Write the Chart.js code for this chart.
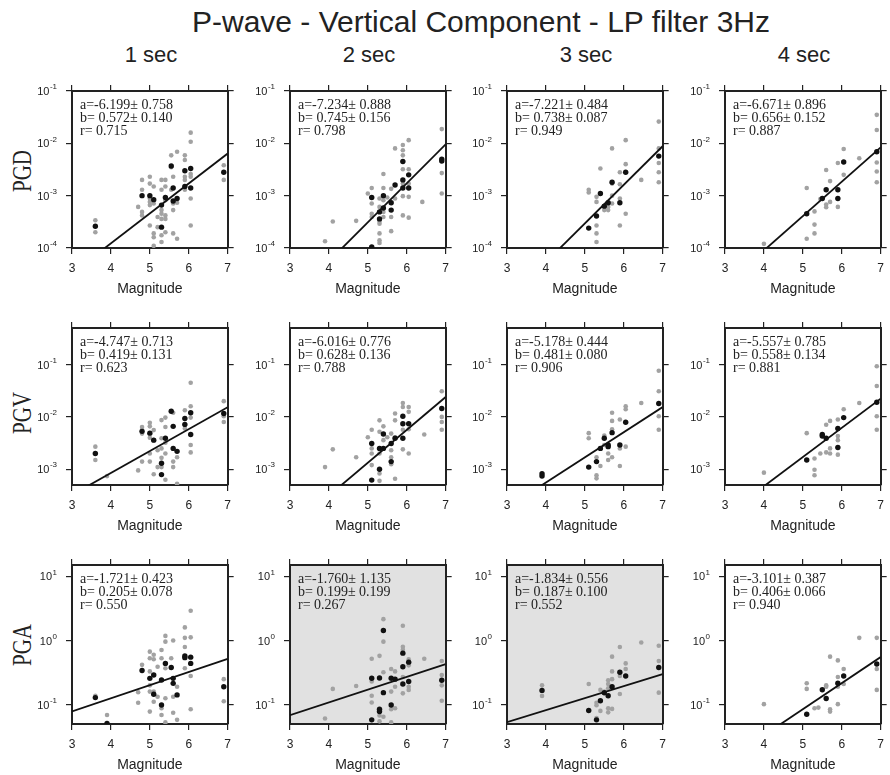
<!DOCTYPE html>
<html>
<head>
<meta charset="utf-8">
<script src="https://cdn.jsdelivr.net/npm/chart.js@4.4.1/dist/chart.umd.min.js"></script>
<style>
  body { margin: 0; background: #fff; overflow: hidden; width: 890px; height: 775px; position: relative;
         font-family: "Liberation Sans", Arial, sans-serif; color: #222; }
  .lbl { position: absolute; white-space: nowrap; }
  #title { left: 481px; top: 22px; transform: translate(-50%, -50%); font-size: 30px; }
  .col { top: 55px; font-size: 22px; transform: translate(-50%, -50%); }
  .row { left: 22px; font-family: "Liberation Serif", "Times New Roman", serif; font-size: 27px;
         transform: translate(-50%, -50%) rotate(-90deg) scaleX(0.78); }
  canvas { position: absolute; }
</style>
</head>
<body>
<div id="title" class="lbl">P-wave - Vertical Component - LP filter 3Hz</div>
<script>
// ---- data ----
const columnTitles = ['1 sec', '2 sec', '3 sec', '4 sec'];
const rowTitles = ['PGD', 'PGV', 'PGA'];
const magnitudeTicks = [3, 4, 5, 6, 7];

const pgdTicks = [1e-4, 1e-3, 1e-2, 1e-1];
const pgvTicks = [1e-3, 1e-2, 1e-1];
const pgaTicks = [1e-1, 1, 10];
const pgdRange = [1e-4, 1e-1];
const pgvRange = [5e-4, 0.5];
const pgaRange = [0.05, 15];

// regression log10(P) = a + b*M per window length
const pgdA = [-6.199, -7.234, -7.221, -6.671];
const pgdAErr = [0.758, 0.888, 0.484, 0.896];
const pgdB = [0.572, 0.745, 0.738, 0.656];
const pgdBErr = [0.140, 0.156, 0.087, 0.152];
const pgdR = [0.715, 0.798, 0.949, 0.887];

const pgvA = [-4.747, -6.016, -5.178, -5.557];
const pgvAErr = [0.713, 0.776, 0.444, 0.785];
const pgvB = [0.419, 0.628, 0.481, 0.558];
const pgvBErr = [0.131, 0.136, 0.080, 0.134];
const pgvR = [0.623, 0.788, 0.906, 0.881];

const pgaA = [-1.721, -1.760, -1.834, -3.101];
const pgaAErr = [0.423, 1.135, 0.556, 0.387];
const pgaB = [0.205, 0.199, 0.187, 0.406];
const pgaBErr = [0.078, 0.199, 0.100, 0.066];
const pgaR = [0.550, 0.267, 0.552, 0.940];
const pgaShaded = [false, true, true, false];

// [magnitude, amplitude] — gray: single stations, black: event averages
const pgd1Gray = [[3.6,3.4e-4],[3.6,2.0e-4],[4.7,6.1e-4],[4.8,2.0e-3],[4.8,1.3e-3],[4.8,4.9e-4],[4.8,4.2e-4],
  [5.0,2.3e-3],[5.0,1.7e-3],[5.0,8.8e-4],[5.0,7.6e-4],[5.0,6.6e-4],[5.0,2.7e-4],[5.1,1.5e-3],[5.1,7.1e-4],
  [5.1,1.9e-4],[5.1,1.6e-4],[5.1,1.1e-4],[5.2,3.9e-4],[5.2,2.5e-4],[5.3,2.0e-3],[5.3,1.3e-3],[5.3,5.3e-4],
  [5.3,4.5e-4],[5.3,3.6e-4],[5.3,1.75e-4],[5.3,1.3e-4],[5.4,2.0e-3],[5.4,1.5e-3],[5.4,8.2e-4],[5.4,4.2e-4],
  [5.4,3.6e-4],[5.4,2.0e-4],[5.55,5.9e-3],[5.55,3.5e-3],[5.55,1.3e-3],[5.6,2.3e-3],[5.6,7.1e-4],[5.6,5.3e-4],
  [5.6,1.9e-4],[5.7,6.9e-3],[5.7,7.3e-4],[5.7,1.5e-4],[5.9,5.9e-3],[5.9,4.8e-3],[5.9,2.3e-3],[5.9,2.0e-3],
  [5.9,1.3e-3],[6.05,1.6e-2],[6.05,1.07e-2],[6.05,2.6e-3],[6.05,2.3e-3],[6.05,8.8e-4],[6.05,2.7e-4],
  [6.9,3.8e-3],[6.9,2.0e-3]];
const pgd1Black = [[3.6,2.6e-4],[4.8,1.0e-3],[5.0,1.0e-3],[5.1,8.4e-4],[5.3,6.6e-4],[5.3,2.5e-4],[5.4,9.2e-4],
  [5.55,3.7e-3],[5.6,1.4e-3],[5.6,7.9e-4],[5.7,8.8e-4],[5.9,3.0e-3],[5.9,1.5e-3],[6.05,3.3e-3],[6.05,1.4e-3],[6.9,2.8e-3]];

const pgd2Gray = [[3.9,1.35e-4],[4.1,3.2e-4],[4.7,3.3e-4],[5.0,1.1e-3],[5.1,1.4e-3],[5.1,7.1e-4],[5.1,4.5e-4],
  [5.1,3.9e-4],[5.3,8.8e-4],[5.3,6.1e-4],[5.3,3.2e-4],[5.3,2.9e-4],[5.3,1.9e-4],[5.3,1.4e-4],[5.3,1.25e-4],
  [5.4,2.6e-3],[5.4,1.4e-3],[5.4,8.2e-4],[5.4,4.9e-4],[5.4,3.9e-4],[5.5,9.2e-4],[5.6,1.35e-3],[5.6,3.9e-4],
  [5.6,2.1e-4],[5.7,8.0e-3],[5.7,8.8e-4],[5.9,9.3e-3],[5.9,7.4e-3],[5.9,5.9e-3],[5.9,3.2e-3],[5.9,1.7e-3],
  [5.9,9.8e-4],[5.9,4.2e-4],[6.05,1.15e-2],[6.05,3.2e-3],[6.05,1.7e-3],[6.05,9.5e-4],[6.05,3.8e-4],
  [6.4,7.6e-4],[6.9,1.87e-2],[6.9,2.7e-3],[6.9,1.1e-3]];
const pgd2Black = [[5.1,9.2e-4],[5.1,1.05e-4],[5.3,4.9e-4],[5.3,3.6e-4],[5.4,1.0e-3],[5.4,5.8e-4],[5.6,7.3e-4],
  [5.6,5.3e-4],[5.7,1.6e-3],[5.9,4.5e-3],[5.9,2.0e-3],[5.9,1.4e-3],[6.05,2.5e-3],[6.05,1.4e-3],[6.9,5.0e-3],[6.9,4.6e-3]];

const pgd3Gray = [[5.1,1.3e-3],[5.1,1.15e-3],[5.3,9.5e-4],[5.3,7.6e-4],[5.3,2.7e-4],[5.3,1.9e-4],[5.3,1.3e-4],
  [5.4,3.3e-3],[5.5,5.3e-4],[5.6,6.1e-4],[5.6,5.3e-4],[5.7,8.0e-3],[5.7,1.7e-3],[5.7,1.0e-3],[5.7,7.1e-4],
  [5.9,2.8e-3],[5.9,1.65e-3],[5.9,8.8e-4],[5.9,2.7e-4],[6.05,1.15e-2],[6.05,4.0e-3],[6.05,4.5e-4],[6.45,2.0e-3],
  [6.9,2.6e-2],[6.9,8.0e-3],[6.9,4.2e-3],[6.9,2.8e-3],[6.9,1.8e-3]];
const pgd3Black = [[5.1,2.4e-4],[5.3,4.1e-4],[5.4,1.1e-3],[5.5,6.3e-4],[5.6,7.3e-4],[5.7,1.8e-3],[5.9,7.3e-4],
  [6.05,2.8e-3],[6.9,5.7e-3]];

const pgd4Gray = [[4.0,1.2e-4],[5.1,1.4e-3],[5.1,1.5e-4],[5.3,5.0e-4],[5.3,2.8e-4],[5.3,1.9e-4],[5.45,8.6e-4],
  [5.6,3.1e-3],[5.6,6.8e-4],[5.6,6.0e-4],[5.7,1.9e-3],[5.7,7.6e-4],[5.9,4.2e-3],[5.9,6.1e-4],[6.05,7.8e-3],
  [6.05,2.5e-3],[6.45,5.2e-3],[6.9,3.5e-2],[6.9,1.8e-2],[6.9,4.3e-3],[6.9,2.9e-3],[6.9,1.8e-3]];
const pgd4Black = [[5.1,4.5e-4],[5.5,8.8e-4],[5.6,1.3e-3],[5.9,1.3e-3],[5.9,8.8e-4],[6.05,4.4e-3],[6.9,6.9e-3]];

const pgv1Gray = [[3.6,2.7e-3],[3.6,1.5e-3],[3.9,7.4e-4],[4.7,9.5e-4],[4.8,6.4e-3],[4.8,5.7e-3],[4.8,4.8e-3],
  [4.8,1.4e-3],[5.0,7.7e-3],[5.0,6.6e-3],[5.0,4.0e-3],[5.0,2.0e-3],[5.0,1.4e-3],[5.1,5.6e-3],[5.1,3.6e-3],
  [5.1,8.0e-4],[5.2,2.3e-3],[5.2,1.1e-3],[5.3,8.7e-3],[5.3,3.9e-3],[5.3,2.5e-3],[5.3,1.65e-3],[5.3,1.1e-3],
  [5.4,9.7e-3],[5.4,6.4e-3],[5.4,3.2e-3],[5.4,2.0e-3],[5.4,6.3e-4],[5.55,1.28e-2],[5.6,1.2e-2],[5.6,1.4e-3],
  [5.6,1.1e-3],[5.7,1.7e-3],[5.7,5.3e-4],[5.9,1.34e-2],[5.9,6.0e-3],[6.05,4.5e-2],[6.05,1.6e-2],[6.05,9.7e-3],
  [6.05,2.9e-3],[6.05,2.1e-3],[6.9,2.0e-2],[6.9,1.03e-2],[6.9,8.0e-3]];
const pgv1Black = [[3.6,2.0e-3],[4.8,5.3e-3],[5.0,4.9e-3],[5.1,3.6e-3],[5.3,1.3e-3],[5.3,7.9e-4],[5.4,3.9e-3],
  [5.55,1.28e-2],[5.6,6.6e-3],[5.6,2.5e-3],[5.7,2.2e-3],[5.9,9.3e-3],[5.9,7.2e-3],[6.05,1.2e-2],[6.05,4.6e-3],[6.9,1.16e-2]];

const pgv2Gray = [[3.9,1.1e-3],[4.1,2.4e-3],[4.7,1.7e-3],[5.0,4.1e-3],[5.1,5.7e-3],[5.1,2.5e-3],[5.1,2.0e-3],
  [5.1,1.2e-3],[5.3,8.6e-3],[5.3,5.2e-3],[5.3,2.0e-3],[5.3,8.3e-4],[5.3,6.0e-4],[5.4,6.6e-3],[5.4,3.6e-3],
  [5.5,4.1e-3],[5.6,4.8e-3],[5.6,2.3e-3],[5.6,1.7e-3],[5.6,1.25e-3],[5.7,1.16e-2],[5.7,8.6e-3],[5.7,4.1e-3],
  [5.7,6.6e-4],[5.9,1.85e-2],[5.9,1.55e-2],[5.9,5.7e-3],[5.9,2.4e-3],[6.05,1.55e-2],[6.05,1.25e-2],
  [6.05,5.8e-3],[6.05,2.0e-3],[6.45,4.6e-3],[6.9,3.1e-2],[6.9,1.0e-2],[6.9,8.0e-3],[6.9,5.7e-3]];
const pgv2Black = [[5.1,3.1e-3],[5.1,6.2e-4],[5.3,2.5e-3],[5.3,1.0e-3],[5.4,4.7e-3],[5.4,2.5e-3],[5.6,3.1e-3],
  [5.6,1.4e-3],[5.7,3.9e-3],[5.9,1.03e-2],[5.9,7.4e-3],[5.9,3.9e-3],[6.05,7.4e-3],[6.9,1.45e-2]];

const pgv3Gray = [[5.1,4.9e-3],[5.1,3.9e-3],[5.3,1.7e-3],[5.3,7.7e-4],[5.3,6.7e-4],[5.4,1.15e-3],[5.5,4.4e-3],
  [5.5,2.9e-3],[5.6,2.0e-3],[5.6,1.5e-3],[5.7,1.2e-2],[5.7,8.4e-3],[5.7,5.8e-3],[5.7,1.7e-3],[5.9,8.9e-3],
  [5.9,2.5e-3],[5.9,1.15e-3],[6.05,1.6e-2],[6.05,1.4e-2],[6.05,2.7e-3],[6.45,1.85e-2],[6.9,7.6e-2],
  [6.9,3.1e-2],[6.9,1.03e-2],[6.9,5.7e-3]];
const pgv3Black = [[3.9,8.2e-4],[3.9,7.4e-4],[5.1,1.1e-3],[5.3,1.4e-3],[5.4,2.5e-3],[5.5,3.9e-3],[5.6,2.9e-3],
  [5.6,2.7e-3],[5.7,5.0e-3],[5.9,2.9e-3],[6.05,7.9e-3],[6.9,1.8e-2]];

const pgv4Gray = [[4.0,8.6e-4],[5.1,4.9e-3],[5.3,1.6e-3],[5.3,9.8e-4],[5.3,7.7e-4],[5.45,2.0e-3],[5.6,7.1e-3],
  [5.6,2.1e-3],[5.7,8.4e-3],[5.7,2.5e-3],[5.7,2.0e-3],[5.9,8.9e-3],[5.9,4.3e-3],[5.9,3.6e-3],[5.9,1.9e-3],
  [6.05,1.4e-2],[6.45,1.85e-2],[6.9,9.3e-2],[6.9,3.9e-2],[6.9,1.03e-2],[6.9,5.7e-3]];
const pgv4Black = [[5.1,1.5e-3],[5.5,4.6e-3],[5.5,4.3e-3],[5.6,3.9e-3],[5.9,6.0e-3],[5.9,2.6e-3],[6.05,9.7e-3],[6.9,1.9e-2]];

const pga1Gray = [[3.6,0.138],[3.9,0.069],[4.7,0.156],[4.7,0.107],[4.8,0.417],[5.0,0.67],[5.0,0.53],[5.0,0.33],
  [5.0,0.20],[5.0,0.16],[5.0,0.078],[5.1,0.60],[5.1,0.51],[5.1,0.16],[5.1,0.111],[5.2,0.39],[5.2,0.133],
  [5.3,0.71],[5.3,0.53],[5.3,0.088],[5.3,0.069],[5.4,1.18],[5.4,0.96],[5.4,0.37],[5.4,0.126],[5.4,0.053],
  [5.55,0.53],[5.6,1.0],[5.6,0.133],[5.6,0.075],[5.7,0.19],[5.7,0.058],[5.9,1.6],[5.9,1.1],[5.9,0.79],
  [5.9,0.37],[6.05,2.9],[6.05,1.12],[6.05,0.28],[6.05,0.085],[6.9,0.25],[6.9,0.113]];
const pga1Black = [[3.6,0.129],[3.9,0.051],[4.8,0.34],[5.0,0.257],[5.1,0.29],[5.1,0.145],[5.3,0.243],[5.3,0.099],
  [5.4,0.44],[5.55,0.38],[5.6,0.257],[5.6,0.215],[5.7,0.142],[5.9,0.575],[5.9,0.54],[6.05,0.55],[6.05,0.44],[6.9,0.19]];

const pga2Gray = [[3.9,0.061],[4.1,0.176],[4.7,0.195],[5.1,0.52],[5.1,0.23],[5.1,0.138],[5.1,0.108],[5.3,0.576],
  [5.3,0.068],[5.3,0.055],[5.4,2.15],[5.4,0.96],[5.4,0.32],[5.4,0.065],[5.6,0.36],[5.6,0.16],[5.6,0.085],
  [5.6,0.053],[5.7,0.33],[5.7,0.19],[5.7,0.088],[5.9,1.7],[5.9,0.8],[5.9,0.72],[5.9,0.27],[5.9,0.15],
  [6.05,0.51],[6.05,0.41],[6.05,0.19],[6.05,0.17],[6.45,0.52],[6.9,0.48],[6.9,0.29],[6.9,0.2],[6.9,0.115]];
const pga2Black = [[5.1,0.258],[5.1,0.058],[5.3,0.26],[5.3,0.085],[5.3,0.078],[5.4,1.43],[5.4,0.154],[5.6,0.258],
  [5.6,0.099],[5.7,0.25],[5.9,0.635],[5.9,0.39],[5.9,0.21],[6.05,0.46],[6.05,0.23],[6.9,0.24]];

const pga3Gray = [[3.9,0.2],[3.9,0.137],[5.1,0.21],[5.3,0.107],[5.3,0.098],[5.3,0.062],[5.4,0.17],[5.4,0.08],
  [5.5,0.16],[5.6,0.24],[5.6,0.21],[5.6,0.18],[5.6,0.088],[5.6,0.076],[5.7,0.56],[5.7,0.33],[5.7,0.25],
  [5.7,0.086],[5.9,0.79],[5.9,0.28],[5.9,0.147],[6.05,0.44],[6.05,0.36],[6.45,0.93],[6.9,0.83],[6.9,0.48],[6.9,0.154]];
const pga3Black = [[3.9,0.167],[5.1,0.081],[5.3,0.058],[5.4,0.115],[5.5,0.153],[5.6,0.138],[5.7,0.19],[5.9,0.32],
  [6.05,0.28],[6.9,0.38]];

const pga4Gray = [[4.0,0.102],[5.1,0.216],[5.1,0.176],[5.3,0.088],[5.4,0.09],[5.6,0.2],[5.6,0.19],[5.7,0.56],
  [5.7,0.078],[5.7,0.085],[5.9,0.49],[5.9,0.27],[5.9,0.19],[5.9,0.102],[6.05,0.36],[6.05,0.21],[6.45,1.1],
  [6.9,1.1],[6.9,0.36],[6.9,0.17]];
const pga4Black = [[5.1,0.071],[5.5,0.171],[5.6,0.125],[5.9,0.216],[6.05,0.28],[6.9,0.43]];

// ---- layout ----
const plotLeft = [72, 290, 507, 725];
const plotTop = [91, 328, 565];
const plotHeight = [157, 157, 159];
const plotWidth = 158;
const padL = 46, padR = 8, padT = 10, padB = 53;
const ink = '#222';

const rowsCfg = [
  { ticks: pgdTicks, range: pgdRange, gray: [pgd1Gray, pgd2Gray, pgd3Gray, pgd4Gray],
    black: [pgd1Black, pgd2Black, pgd3Black, pgd4Black], a: pgdA, aErr: pgdAErr, b: pgdB, bErr: pgdBErr, r: pgdR },
  { ticks: pgvTicks, range: pgvRange, gray: [pgv1Gray, pgv2Gray, pgv3Gray, pgv4Gray],
    black: [pgv1Black, pgv2Black, pgv3Black, pgv4Black], a: pgvA, aErr: pgvAErr, b: pgvB, bErr: pgvBErr, r: pgvR },
  { ticks: pgaTicks, range: pgaRange, gray: [pga1Gray, pga2Gray, pga3Gray, pga4Gray],
    black: [pga1Black, pga2Black, pga3Black, pga4Black], a: pgaA, aErr: pgaAErr, b: pgaB, bErr: pgaBErr, r: pgaR,
    shaded: pgaShaded }
];

// shaded plot background, fit text, and 10^n tick labels
const panelDecor = {
  id: 'panelDecor',
  beforeDraw(chart, args, opts) {
    if (!opts.shaded) return;
    const { left, top, width, height } = chart.chartArea;
    chart.ctx.save();
    chart.ctx.fillStyle = '#e1e1e1';
    chart.ctx.fillRect(left, top, width, height);
    chart.ctx.restore();
  },
  afterDraw(chart, args, opts) {
    const ctx = chart.ctx;
    const area = chart.chartArea;
    ctx.save();
    ctx.fillStyle = ink;
    ctx.textBaseline = 'middle';
    ctx.font = '14px "Liberation Serif", "Times New Roman", serif';
    ctx.textAlign = 'left';
    opts.lines.forEach((t, i) => ctx.fillText(t, area.left + 8, area.top + 14 + i * 13.3));

    const ys = chart.scales.y;
    const xr = area.left - 15;
    ys.ticks.forEach(t => {
      const py = ys.getPixelForValue(t.value);
      const exp = String(Math.round(Math.log10(t.value)));
      ctx.font = '8px "Liberation Sans", Arial, sans-serif';
      const ew = ctx.measureText(exp).width;
      ctx.textAlign = 'left';
      ctx.fillText(exp, xr - ew, py - 4);
      ctx.font = '11px "Liberation Sans", Arial, sans-serif';
      ctx.textAlign = 'right';
      ctx.fillText('10', xr - ew - 0.5, py + 1);
    });
    ctx.restore();
  }
};

function signed(v) {
  return (v < 0 ? '' : ' ') + v.toFixed(3);
}

function tickGrid() {
  return { display: true, drawOnChartArea: false, drawTicks: true, tickLength: 6, color: ink, lineWidth: 1.2 };
}

function makePanel(row, col) {
  const cfg = rowsCfg[row];
  const h = plotHeight[row];
  const canvas = document.createElement('canvas');
  canvas.width = padL + plotWidth + padR;
  canvas.height = padT + h + padB;
  canvas.style.left = (plotLeft[col] - padL) + 'px';
  canvas.style.top = (plotTop[row] - padT) + 'px';
  document.body.appendChild(canvas);

  const a = cfg.a[col], b = cfg.b[col];
  const fitLine = magnitudeTicks.filter((m, i) => i === 0 || i === magnitudeTicks.length - 1)
    .map(m => ({ x: m, y: Math.pow(10, a + b * m) }));
  const toPts = arr => arr.map(p => ({ x: p[0], y: p[1] }));
  const decades = s => { s.ticks = cfg.ticks.map(v => ({ value: v })); };
  const magTicks = s => { s.ticks = magnitudeTicks.map(v => ({ value: v })); };
  const border = { display: true, color: ink, width: 2 };

  new Chart(canvas, {
    type: 'scatter',
    data: {
      datasets: [
        { type: 'line', data: fitLine, borderColor: '#111', borderWidth: 1.8, pointRadius: 0, fill: false },
        { data: toPts(cfg.black[col]), backgroundColor: '#111', borderWidth: 0, pointRadius: 2.7 },
        { data: toPts(cfg.gray[col]), backgroundColor: '#a2a2a2', borderWidth: 0, pointRadius: 2.3 }
      ]
    },
    options: {
      responsive: false,
      animation: false,
      devicePixelRatio: 1,
      layout: { padding: 0 },
      plugins: {
        legend: { display: false },
        tooltip: { enabled: false },
        panelDecor: {
          shaded: cfg.shaded ? cfg.shaded[col] : false,
          lines: [
            'a=' + signed(a) + '\u00b1 ' + cfg.aErr[col].toFixed(3),
            'b=' + signed(b) + '\u00b1 ' + cfg.bErr[col].toFixed(3),
            'r=' + signed(cfg.r[col])
          ]
        }
      },
      scales: {
        x: {
          type: 'linear', position: 'bottom', min: 3, max: 7,
          afterBuildTicks: magTicks,
          afterFit: s => { s.height = padB; },
          grid: tickGrid(), border,
          ticks: { color: ink, padding: 7, font: { size: 12, family: '"Liberation Sans", Arial, sans-serif' } },
          title: { display: true, text: 'Magnitude', color: ink, padding: { top: 0, bottom: 3 },
                   font: { size: 14, family: '"Liberation Sans", Arial, sans-serif' } }
        },
        xTop: {
          type: 'linear', position: 'top', min: 3, max: 7,
          afterBuildTicks: magTicks,
          afterFit: s => { s.height = padT; },
          grid: tickGrid(), border, ticks: { display: false }
        },
        y: {
          type: 'logarithmic', position: 'left', min: cfg.range[0], max: cfg.range[1],
          afterBuildTicks: decades,
          afterFit: s => { s.width = padL; },
          grid: tickGrid(), border, ticks: { display: false }
        },
        yRight: {
          type: 'logarithmic', position: 'right', min: cfg.range[0], max: cfg.range[1],
          afterBuildTicks: decades,
          afterFit: s => { s.width = padR; },
          grid: tickGrid(), border, ticks: { display: false }
        }
      }
    },
    plugins: [panelDecor]
  });
}

columnTitles.forEach((t, i) => {
  const d = document.createElement('div');
  d.className = 'lbl col';
  d.style.left = (plotLeft[i] + plotWidth / 2) + 'px';
  d.textContent = t;
  document.body.appendChild(d);
});
rowTitles.forEach((t, i) => {
  const d = document.createElement('div');
  d.className = 'lbl row';
  d.style.top = [171, 413, 645][i] + 'px';
  d.textContent = t;
  document.body.appendChild(d);
});

for (let r = 0; r < 3; r++) {
  for (let c = 0; c < 4; c++) makePanel(r, c);
}
</script>
</body>
</html>
